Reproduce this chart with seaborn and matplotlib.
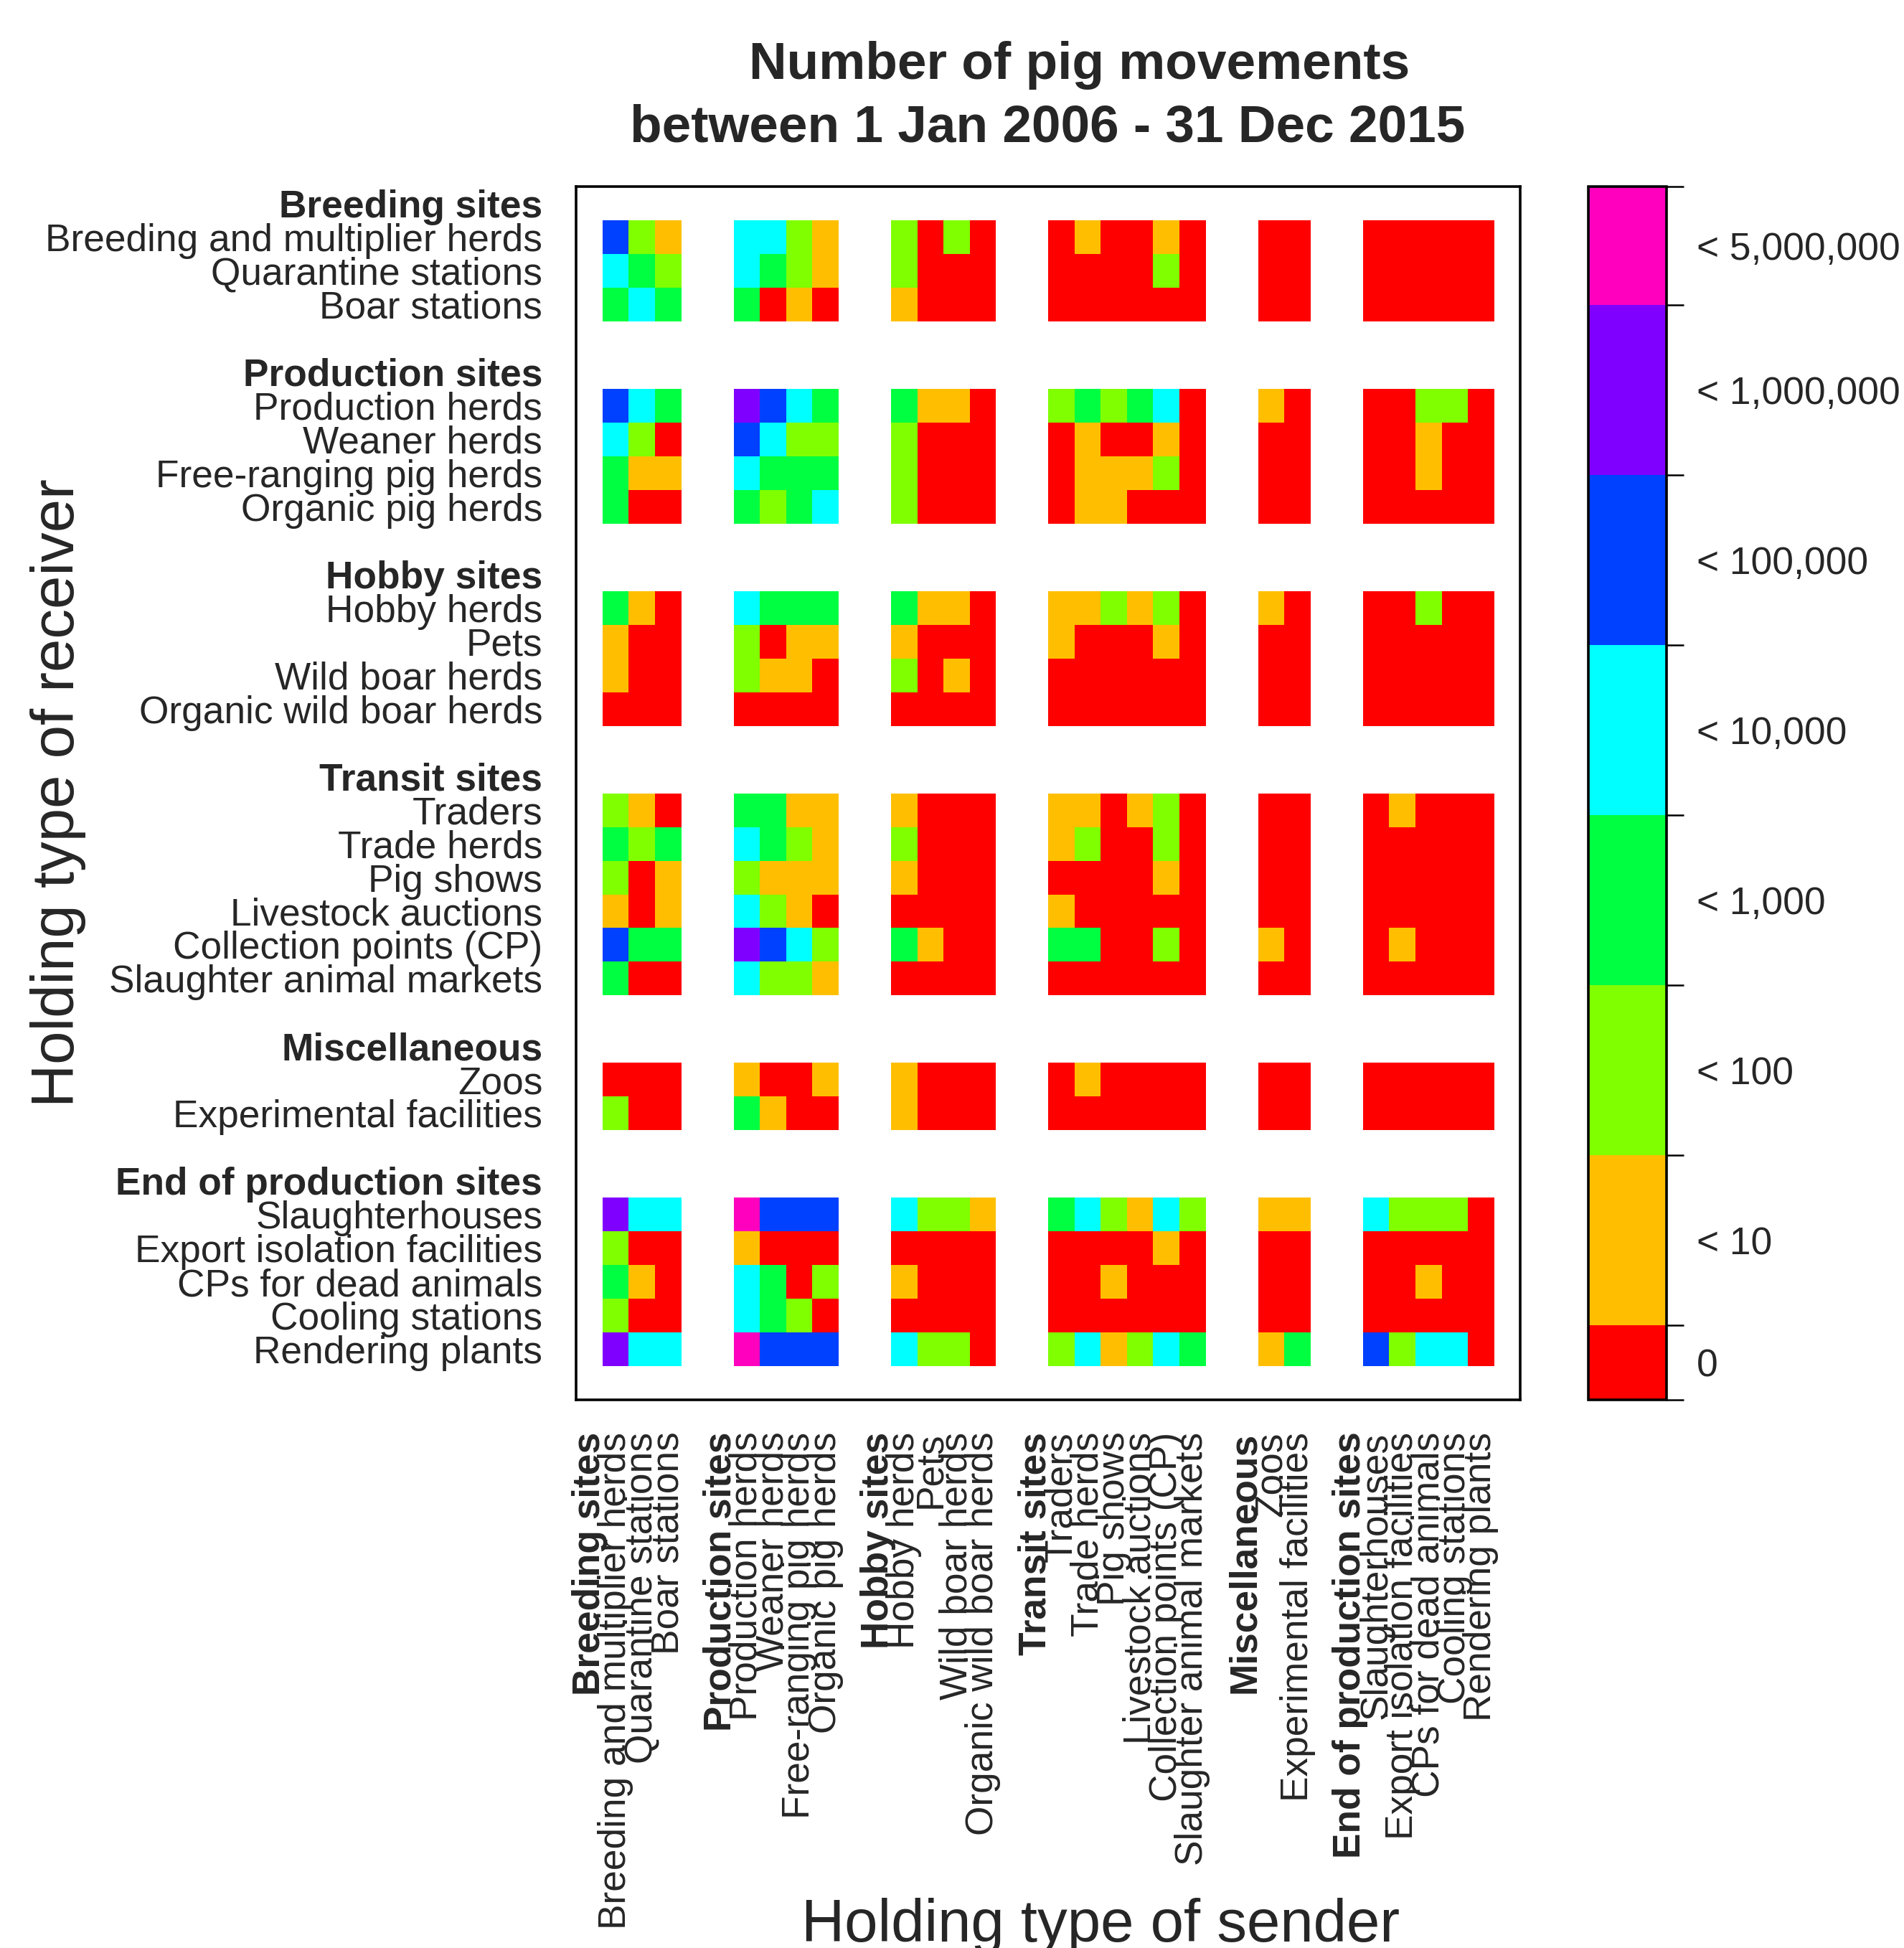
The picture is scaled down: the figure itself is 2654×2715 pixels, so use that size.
import numpy as np
import pandas as pd
import matplotlib
matplotlib.use("Agg")
import matplotlib.pyplot as plt
import seaborn as sns
from matplotlib.colors import ListedColormap, BoundaryNorm
from matplotlib.cm import ScalarMappable

# ---------------------------------------------------------------- data
groups = ["Breeding sites", "Production sites", "Hobby sites",
          "Transit sites", "Miscellaneous", "End of production sites"]

holding_types = [
    ["Breeding and multiplier herds", "Quarantine stations", "Boar stations"],
    ["Production herds", "Weaner herds", "Free-ranging pig herds", "Organic pig herds"],
    ["Hobby herds", "Pets", "Wild boar herds", "Organic wild boar herds"],
    ["Traders", "Trade herds", "Pig shows", "Livestock auctions",
     "Collection points (CP)", "Slaughter animal markets"],
    ["Zoos", "Experimental facilities"],
    ["Slaughterhouses", "Export isolation facilities", "CPs for dead animals",
     "Cooling stations", "Rendering plants"],
]

# movement class per (receiver, sender); 0 = none, 1 = <10, 2 = <100,
# 3 = <1,000, 4 = <10,000, 5 = <100,000, 6 = <1,000,000, 7 = <5,000,000
# sender order: breeding(3) | production(4) | hobby(4) | transit(6) | misc(2) | end(5)
breeding_rows = [
    [5, 2, 1, 4, 4, 2, 1, 2, 0, 2, 0, 0, 1, 0, 0, 1, 0, 0, 0, 0, 0, 0, 0, 0],
    [4, 3, 2, 4, 3, 2, 1, 2, 0, 0, 0, 0, 0, 0, 0, 2, 0, 0, 0, 0, 0, 0, 0, 0],
    [3, 4, 3, 3, 0, 1, 0, 1, 0, 0, 0, 0, 0, 0, 0, 0, 0, 0, 0, 0, 0, 0, 0, 0],
]
production_rows = [
    [5, 4, 3, 6, 5, 4, 3, 3, 1, 1, 0, 2, 3, 2, 3, 4, 0, 1, 0, 0, 0, 2, 2, 0],
    [4, 2, 0, 5, 4, 2, 2, 2, 0, 0, 0, 0, 1, 0, 0, 1, 0, 0, 0, 0, 0, 1, 0, 0],
    [3, 1, 1, 4, 3, 3, 3, 2, 0, 0, 0, 0, 1, 1, 1, 2, 0, 0, 0, 0, 0, 1, 0, 0],
    [3, 0, 0, 3, 2, 3, 4, 2, 0, 0, 0, 0, 1, 1, 0, 0, 0, 0, 0, 0, 0, 0, 0, 0],
]
hobby_rows = [
    [3, 1, 0, 4, 3, 3, 3, 3, 1, 1, 0, 1, 1, 2, 1, 2, 0, 1, 0, 0, 0, 2, 0, 0],
    [1, 0, 0, 2, 0, 1, 1, 1, 0, 0, 0, 1, 0, 0, 0, 1, 0, 0, 0, 0, 0, 0, 0, 0],
    [1, 0, 0, 2, 1, 1, 0, 2, 0, 1, 0, 0, 0, 0, 0, 0, 0, 0, 0, 0, 0, 0, 0, 0],
    [0, 0, 0, 0, 0, 0, 0, 0, 0, 0, 0, 0, 0, 0, 0, 0, 0, 0, 0, 0, 0, 0, 0, 0],
]
transit_rows = [
    [2, 1, 0, 3, 3, 1, 1, 1, 0, 0, 0, 1, 1, 0, 1, 2, 0, 0, 0, 0, 1, 0, 0, 0],
    [3, 2, 3, 4, 3, 2, 1, 2, 0, 0, 0, 1, 2, 0, 0, 2, 0, 0, 0, 0, 0, 0, 0, 0],
    [2, 0, 1, 2, 1, 1, 1, 1, 0, 0, 0, 0, 0, 0, 0, 1, 0, 0, 0, 0, 0, 0, 0, 0],
    [1, 0, 1, 4, 2, 1, 0, 0, 0, 0, 0, 1, 0, 0, 0, 0, 0, 0, 0, 0, 0, 0, 0, 0],
    [5, 3, 3, 6, 5, 4, 2, 3, 1, 0, 0, 3, 3, 0, 0, 2, 0, 1, 0, 0, 1, 0, 0, 0],
    [3, 0, 0, 4, 2, 2, 1, 0, 0, 0, 0, 0, 0, 0, 0, 0, 0, 0, 0, 0, 0, 0, 0, 0],
]
misc_rows = [
    [0, 0, 0, 1, 0, 0, 1, 1, 0, 0, 0, 0, 1, 0, 0, 0, 0, 0, 0, 0, 0, 0, 0, 0],
    [2, 0, 0, 3, 1, 0, 0, 1, 0, 0, 0, 0, 0, 0, 0, 0, 0, 0, 0, 0, 0, 0, 0, 0],
]
end_rows = [
    [6, 4, 4, 7, 5, 5, 5, 4, 2, 2, 1, 3, 4, 2, 1, 4, 2, 1, 1, 4, 2, 2, 2, 0],
    [2, 0, 0, 1, 0, 0, 0, 0, 0, 0, 0, 0, 0, 0, 0, 1, 0, 0, 0, 0, 0, 0, 0, 0],
    [3, 1, 0, 4, 3, 0, 2, 1, 0, 0, 0, 0, 0, 1, 0, 0, 0, 0, 0, 0, 0, 1, 0, 0],
    [2, 0, 0, 4, 3, 2, 0, 0, 0, 0, 0, 0, 0, 0, 0, 0, 0, 0, 0, 0, 0, 0, 0, 0],
    [6, 4, 4, 7, 5, 5, 5, 4, 2, 2, 0, 2, 4, 1, 2, 4, 3, 1, 3, 5, 2, 4, 4, 0],
]

class_labels = ["0", "< 10", "< 100", "< 1,000", "< 10,000",
                "< 100,000", "< 1,000,000", "< 5,000,000"]
class_colors = ["#FF0000", "#FFBF00", "#80FF00", "#00FF40",
                "#00FFFF", "#0040FF", "#8000FF", "#FF00BF"]
# colour-key edges on a log10 scale of the movement count
key_edges = [-0.44, 0, 1, 2, 3, 4, 5, 6, np.log10(5e6)]

title_lines = ["Number of pig movements", "between 1 Jan 2006 - 31 Dec 2015"]

# ---------------------------------------------------------------- layout of the grid
# each group gets a header slot just before its items and groups are
# separated by two empty slots
slots, item_slot = [], []
pos = 1
for g, items in zip(groups, holding_types):
    slots.append((pos - 1, g, True))
    for k, name in enumerate(items):
        slots.append((pos + k, name, False))
        item_slot.append(pos + k)
    pos += len(items) + 2
n = pos - 1

blocks = breeding_rows + production_rows + hobby_rows + transit_rows + misc_rows + end_rows
grid = np.full((n, n), np.nan)
for r, row in enumerate(blocks):
    for c, v in enumerate(row):
        grid[item_slot[r], item_slot[c]] = v
df = pd.DataFrame(grid)

# ---------------------------------------------------------------- figure
sns.set_style("white")
plt.rcParams["font.family"] = ["Liberation Sans", "DejaVu Sans"]

W, H = 2654, 2715
fig = plt.figure(figsize=(W / 200, H / 200), dpi=200)
ax = fig.add_axes([0.3027, 0.2813, 0.4958, 0.6230])

cmap = ListedColormap(class_colors)
norm = BoundaryNorm(np.arange(-0.5, 8.5, 1), cmap.N)
sns.heatmap(df, ax=ax, cmap=cmap, norm=norm, cbar=False,
            xticklabels=False, yticklabels=False,
            linewidths=0, edgecolor="none")

tick_pos = [s[0] + 0.5 for s in slots]
tick_txt = [s[1] for s in slots]
ax.set_xticks(tick_pos)
ax.set_xticklabels(tick_txt, rotation=90, fontsize=19.2)
ax.set_yticks(tick_pos)
ax.set_yticklabels(tick_txt, rotation=0, fontsize=19.2)
for lab_list in (ax.get_xticklabels(), ax.get_yticklabels()):
    for lab, s in zip(lab_list, slots):
        if s[2]:
            lab.set_fontweight("bold")
for lab in ax.get_xticklabels():
    lab.set_va("top")
ax.tick_params(axis="y", length=0, pad=17)
ax.tick_params(axis="x", length=0, pad=16)

for sp in ax.spines.values():
    sp.set_visible(True)
    sp.set_color("black")
    sp.set_linewidth(1.3)

# two-line title
fig.text(1505 / W, 1 - 110 / H, title_lines[0], fontsize=26.3,
         fontweight="bold", ha="center", va="baseline")
fig.text(1460 / W, 1 - 198 / H, title_lines[1], fontsize=26.3,
         fontweight="bold", ha="center", va="baseline")

ax.set_xlabel("Holding type of sender", fontsize=30)
ax.xaxis.set_label_coords(0.555, -0.446)
ax.xaxis.label.set_va("baseline")
ax.set_ylabel("Holding type of receiver", fontsize=30, va="center")
ax.yaxis.set_label_coords(-0.549, 0.5)

# ---------------------------------------------------------------- colour key
cax = fig.add_axes([0.8343, 0.2813, 0.0411, 0.6230])
key_norm = BoundaryNorm(key_edges, cmap.N)
sm = ScalarMappable(norm=key_norm, cmap=cmap)
cb = fig.colorbar(sm, cax=cax, boundaries=key_edges, spacing="proportional")
mids = [(a + b) / 2 for a, b in zip(key_edges[:-1], key_edges[1:])]
cb.set_ticks(mids, labels=class_labels)
cb.set_ticks(key_edges, minor=True)
cax.tick_params(which="major", length=0, pad=15, labelsize=19.2)
cax.tick_params(which="minor", length=8.7, width=0.9, color="black")
cb.outline.set_linewidth(1.3)
cb.outline.set_edgecolor("black")

fig.savefig("out.png", dpi=200)
